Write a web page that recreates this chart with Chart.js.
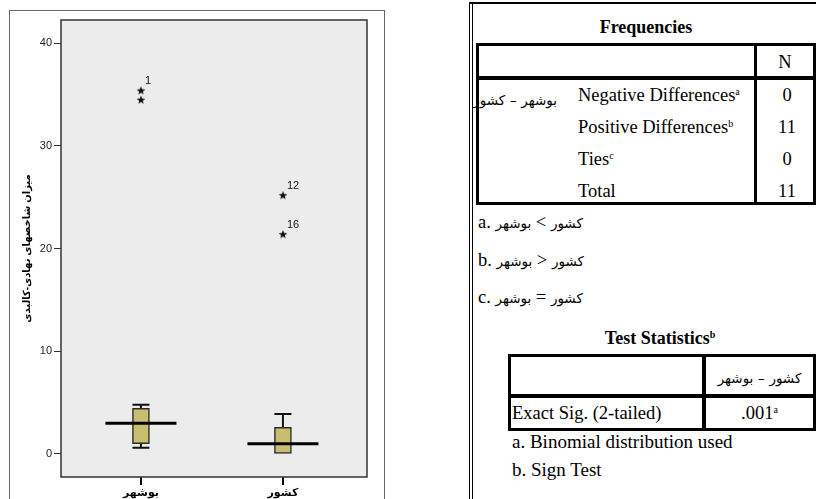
<!DOCTYPE html>
<html lang="fa">
<head>
<meta charset="UTF-8">
<title>Boxplot and Sign Test</title>
<script src="https://cdn.jsdelivr.net/npm/chart.js"></script>
<style>
  body { margin:0; width:816px; height:499px; overflow:hidden; background:#fff; position:relative;
         font-family:"Liberation Serif","Times New Roman",serif; color:#000; }
  .t { position:absolute; height:22px; line-height:22px; white-space:nowrap; font-size:18.5px; }
  .c { text-align:center; }
  .ln { position:absolute; background:#000; }
  .fa { display:inline-block; font-family:"DejaVu Sans",sans-serif; font-size:13.5px; }
  sup { font-size:10px; vertical-align:6px; line-height:0; }
  #wrap { position:absolute; left:0; top:0; width:400px; height:499px; }
  #frame { position:absolute; left:9px; top:10px; width:374px; height:500px; border:1px solid #666; }
</style>
</head>
<body>
<div id="frame"></div>
<div id="wrap"><canvas id="box"></canvas></div>

<!-- right panel borders -->
<div class="ln" style="left:469px;top:3px;width:1px;height:496px"></div>
<div class="ln" style="left:472px;top:3px;width:1px;height:496px"></div>
<div class="ln" style="left:469px;top:2px;width:347px;height:2px"></div>

<!-- Frequencies -->
<div class="t c" style="left:476px;top:16px;width:340px;font-weight:bold;font-size:18px">Frequencies</div>
<div style="position:absolute;left:476px;top:43px;width:340px;height:162px;border:3px solid #000;box-sizing:border-box"></div>
<div class="ln" style="left:476px;top:76px;width:340px;height:4px"></div>
<div class="ln" style="left:754px;top:43px;width:3px;height:162px"></div>
<div class="t c" style="left:757px;top:51px;width:56px">N</div>
<div class="t" style="left:460px;top:88px;width:97px;text-align:right"><span class="fa">کشور</span> <span class="fa">–</span> <span class="fa">بوشهر</span></div>
<div class="t" style="left:578px;top:84px">Negative Differences<sup>a</sup></div>
<div class="t" style="left:578px;top:116px">Positive Differences<sup>b</sup></div>
<div class="t" style="left:578px;top:148px">Ties<sup>c</sup></div>
<div class="t" style="left:578px;top:180px">Total</div>
<div class="t c" style="left:759px;top:84px;width:56px">0</div>
<div class="t c" style="left:759px;top:116px;width:56px">11</div>
<div class="t c" style="left:759px;top:148px;width:56px">0</div>
<div class="t c" style="left:759px;top:180px;width:56px">11</div>

<div class="t" style="left:478px;top:211px">a. <span class="fa">بوشهر</span> &lt; <span class="fa">کشور</span></div>
<div class="t" style="left:478px;top:249px">b. <span class="fa">بوشهر</span> &gt; <span class="fa">کشور</span></div>
<div class="t" style="left:478px;top:286px">c. <span class="fa">بوشهر</span> = <span class="fa">کشور</span></div>

<!-- Test Statistics -->
<div class="t c" style="left:560px;top:327px;width:200px;font-weight:bold;font-size:18px">Test Statistics<sup>b</sup></div>
<div style="position:absolute;left:508px;top:354px;width:308px;height:77px;border:3px solid #000;box-sizing:border-box"></div>
<div class="ln" style="left:508px;top:394px;width:308px;height:4px"></div>
<div class="ln" style="left:702px;top:354px;width:4px;height:77px"></div>
<div class="t c" style="left:706px;top:366px;width:107px"><span class="fa">بوشهر</span> <span class="fa">–</span> <span class="fa">کشور</span></div>
<div class="t" style="left:512px;top:402px">Exact Sig. (2-tailed)</div>
<div class="t c" style="left:706px;top:402px;width:107px">.001<sup>a</sup></div>
<div class="t" style="left:512px;top:431px;font-size:19px">a. Binomial distribution used</div>
<div class="t" style="left:512px;top:459px;font-size:19px">b. Sign Test</div>

<script>
  const categories = ['بوشهر', 'کشور'];
  const whiskerLow = [0.6, 0];
  const q1 = [1.0, 0];
  const median = [3.0, 1.0];
  const q3 = [4.45, 2.6];
  const whiskerHigh = [4.8, 3.9];
  const outlierGroup = [1, 1, 2, 2];
  const outlierValue = [35.4, 34.5, 25.2, 21.4];
  const outlierCase = ['1', '', '12', '16'];
  const yTicks = [0, 10, 20, 30, 40];

  const sans = 'Arial, "Liberation Sans", "DejaVu Sans", sans-serif';

  // filled star used for extreme values
  const star = document.createElement('canvas');
  star.width = star.height = 10;
  (function () {
    const g = star.getContext('2d');
    g.fillStyle = '#111';
    g.beginPath();
    for (let i = 0; i < 10; i++) {
      const r = i % 2 ? 1.9 : 4.6;
      const a = -Math.PI / 2 + i * Math.PI / 5;
      g.lineTo(5 + r * Math.cos(a), 5.4 + r * Math.sin(a));
    }
    g.closePath();
    g.fill();
  })();

  const boxParts = {
    id: 'boxParts',
    beforeDatasetsDraw(chart) {
      const {ctx, chartArea: a, scales: {x, y}} = chart;
      ctx.save();
      ctx.fillStyle = '#ececec';
      ctx.fillRect(a.left, a.top, a.right - a.left, a.bottom - a.top);
      ctx.strokeStyle = '#111';
      ctx.lineWidth = 2;
      categories.forEach((c, i) => {
        const px = x.getPixelForValue(i + 1);
        const yl = y.getPixelForValue(whiskerLow[i]), yq1 = y.getPixelForValue(q1[i]);
        const yh = y.getPixelForValue(whiskerHigh[i]), yq3 = y.getPixelForValue(q3[i]);
        ctx.beginPath();
        ctx.moveTo(px, yq3); ctx.lineTo(px, yh);
        ctx.moveTo(px - 8.5, yh); ctx.lineTo(px + 8.5, yh);
        if (whiskerLow[i] < q1[i]) {
          ctx.moveTo(px, yq1); ctx.lineTo(px, yl);
          ctx.moveTo(px - 8.5, yl); ctx.lineTo(px + 8.5, yl);
        }
        ctx.stroke();
      });
      ctx.restore();
    },
    afterDatasetsDraw(chart) {
      const {ctx, chartArea: a, scales: {x, y}} = chart;
      ctx.save();
      ctx.strokeStyle = '#000';
      ctx.lineWidth = 3;
      categories.forEach((c, i) => {
        const px = x.getPixelForValue(i + 1);
        const ym = y.getPixelForValue(median[i]);
        ctx.beginPath();
        ctx.moveTo(px - 35.5, ym); ctx.lineTo(px + 35.5, ym);
        ctx.stroke();
      });
      ctx.fillStyle = '#111';
      ctx.font = '11px ' + sans;
      ctx.textBaseline = 'middle';
      outlierValue.forEach((v, i) => {
        if (!outlierCase[i]) return;
        ctx.fillText(outlierCase[i], x.getPixelForValue(outlierGroup[i]) + 4, y.getPixelForValue(v) - 9);
      });
      ctx.strokeStyle = '#333';
      ctx.lineWidth = 1.5;
      ctx.strokeRect(a.left, a.top, a.right - a.left, a.bottom - a.top);
      ctx.restore();
    }
  };

  new Chart(document.getElementById('box'), {
    type: 'bar',
    data: {
      datasets: [{
        type: 'bar',
        data: categories.map((c, i) => ({x: i + 1, y: [q1[i], q3[i]]})),
        backgroundColor: '#c9be70',
        borderColor: '#2a2a2a',
        borderWidth: 1.5,
        borderSkipped: false,
        barThickness: 17
      }, {
        type: 'scatter',
        data: outlierValue.map((v, i) => ({x: outlierGroup[i], y: v})),
        pointStyle: star,
        showLine: false
      }]
    },
    options: {
      responsive: true,
      maintainAspectRatio: false,
      animation: false,
      layout: {padding: {left: 17, right: 33, top: 20, bottom: 0}},
      plugins: {legend: {display: false}, tooltip: {enabled: false}},
      scales: {
        x: {
          type: 'linear', min: 0.437, max: 2.592, offset: false,
          afterBuildTicks: s => { s.ticks = categories.map((c, i) => ({value: i + 1})); },
          afterFit: s => { s.height = 22; },
          ticks: {
            callback: v => categories[v - 1],
            font: {size: 11, weight: 'bold', family: sans},
            color: '#000', padding: 1, autoSkip: false, maxRotation: 0
          },
          grid: {offset: false, drawOnChartArea: false, tickLength: 8, color: '#000', lineWidth: 2},
          border: {display: false}
        },
        y: {
          min: -2.24, max: 42.26,
          afterBuildTicks: s => { s.ticks = yTicks.map(v => ({value: v})); },
          afterFit: s => { s.width = 44; },
          ticks: {font: {size: 11, family: sans}, color: '#222', padding: 2},
          grid: {drawOnChartArea: false, tickLength: 7, color: '#333', lineWidth: 1},
          border: {display: false},
          title: {
            display: true, text: 'میزان شاخصهای نهادی-کالبدی',
            font: {size: 10, weight: 'bold', family: sans}, color: '#000',
            padding: {top: 4, bottom: 4}
          }
        }
      }
    },
    plugins: [boxParts]
  });
</script>
</body>
</html>
